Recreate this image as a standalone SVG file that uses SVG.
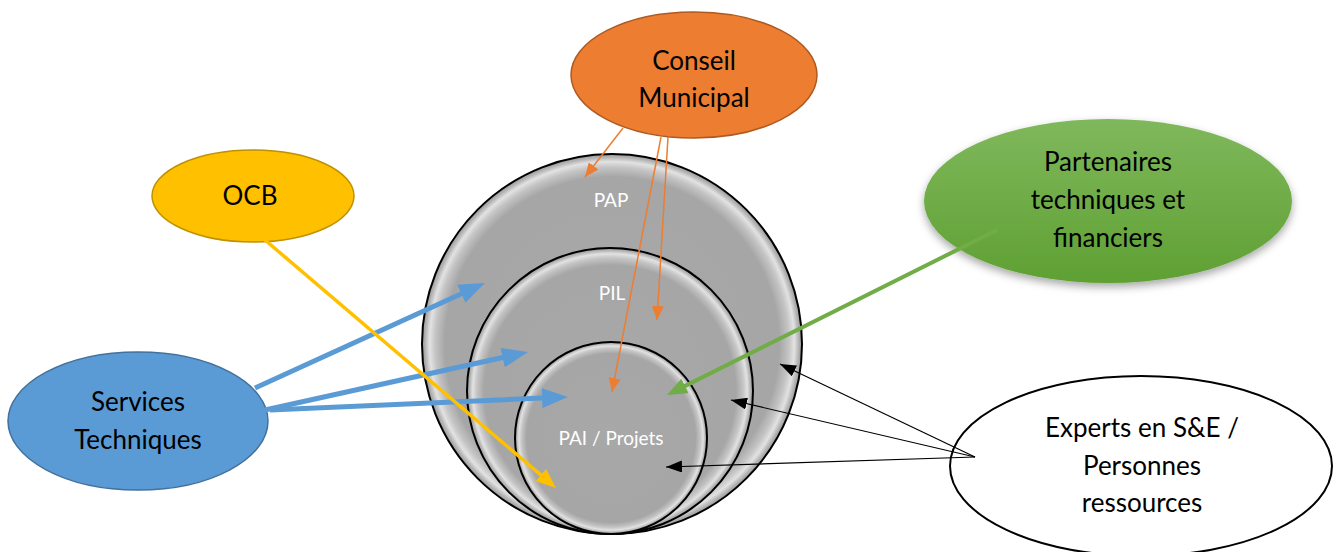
<svg xmlns="http://www.w3.org/2000/svg" width="1341" height="552" viewBox="0 0 1341 552">
<style>
.lbl{font-family:Lato,"Liberation Sans",sans-serif;font-size:26px;fill:#000;text-anchor:middle}
.in{font-family:Lato,"Liberation Sans",sans-serif;font-size:19px;fill:#fff;text-anchor:middle}
.ring{stroke:#000;stroke-width:2}
.blue{stroke:#5B9BD5;stroke-width:5;fill:none}
.org{stroke:#ED7D31;stroke-width:1.5;fill:none}
.blk{stroke:#000;stroke-width:1.2;fill:none}
</style>
<defs>
<radialGradient id="gl" cx="50%" cy="50%" r="50%">
<stop offset="0" stop-color="#A8A8A8"/>
<stop offset="0.88" stop-color="#A6A6A6"/>
<stop offset="0.93" stop-color="#C4C4C4"/>
<stop offset="0.96" stop-color="#E2E2E2"/>
<stop offset="0.985" stop-color="#B0B0B0"/>
<stop offset="1" stop-color="#9A9A9A"/>
</radialGradient>
<linearGradient id="gr" x1="0" y1="0" x2="0" y2="1">
<stop offset="0" stop-color="#7FB85C"/>
<stop offset="1" stop-color="#5FA033"/>
</linearGradient>
<filter id="sh" x="-20%" y="-20%" width="140%" height="150%">
<feDropShadow dx="0" dy="4" stdDeviation="4" flood-color="#000" flood-opacity="0.35"/>
</filter>
<marker id="mb" markerUnits="userSpaceOnUse" markerWidth="26" markerHeight="20" refX="11" refY="10" orient="auto"><path d="M0,0 L26,10 L0,20 Z" fill="#5B9BD5"/></marker>
<marker id="my" markerUnits="userSpaceOnUse" markerWidth="20" markerHeight="16" refX="8" refY="8" orient="auto"><path d="M0,0 L20,8 L0,16 Z" fill="#FFC000"/></marker>
<marker id="mg" markerUnits="userSpaceOnUse" markerWidth="20" markerHeight="16" refX="8" refY="8" orient="auto"><path d="M0,0 L20,8 L0,16 Z" fill="#70AD47"/></marker>
<marker id="mo" markerUnits="userSpaceOnUse" markerWidth="14" markerHeight="12" refX="14" refY="6" orient="auto"><path d="M0,0 L14,6 L0,12 Z" fill="#ED7D31"/></marker>
<marker id="mk" markerUnits="userSpaceOnUse" markerWidth="16" markerHeight="12" refX="16" refY="6" orient="auto"><path d="M0,0 L16,6 L0,12 Z" fill="#000"/></marker>
</defs>

<g id="pap">
<circle cx="612" cy="344" r="190" fill="url(#gl)" class="ring"/>
<text class="in" x="611" y="207">PAP</text>
</g>
<g id="pil">
<circle cx="610" cy="391" r="143" fill="url(#gl)" class="ring"/>
<text class="in" x="612" y="300">PIL</text>
</g>
<g id="pai">
<circle cx="611" cy="438" r="96" fill="url(#gl)" class="ring"/>
<text class="in" x="611" y="445">PAI / Projets</text>
</g>

<g id="conseil">
<ellipse cx="694" cy="75" rx="123" ry="63" fill="#ED7D31" stroke="#AE5A21" stroke-width="1.5"/>
<text class="lbl" x="694" y="70">Conseil</text>
<text class="lbl" x="694" y="107">Municipal</text>
</g>
<g id="ocb">
<ellipse cx="253" cy="196" rx="101" ry="46" fill="#FFC000" stroke="#BF9000" stroke-width="1.5"/>
<text class="lbl" x="250" y="205">OCB</text>
</g>
<g id="services">
<ellipse cx="138" cy="421" rx="130" ry="69" fill="#5B9BD5" stroke="#41719C" stroke-width="1.5"/>
<text class="lbl" x="138" y="411">Services</text>
<text class="lbl" x="138" y="449">Techniques</text>
</g>
<g id="partenaires">
<ellipse cx="1108" cy="201" rx="184" ry="82" fill="url(#gr)" filter="url(#sh)"/>
<text class="lbl" x="1108" y="171">Partenaires</text>
<text class="lbl" x="1108" y="209">techniques et</text>
<text class="lbl" x="1108" y="247">financiers</text>
</g>
<g id="experts">
<ellipse cx="1141" cy="466" rx="191" ry="90" fill="#fff" stroke="#000" stroke-width="2"/>
<text class="lbl" x="1142" y="437">Experts en S&amp;E /</text>
<text class="lbl" x="1142" y="475">Personnes</text>
<text class="lbl" x="1142" y="512">ressources</text>
</g>

<g id="connectors">
<line x1="255" y1="388" x2="471.3" y2="289.2" class="blue" marker-end="url(#mb)"/>
<line x1="265" y1="410" x2="513.3" y2="355.2" class="blue" marker-end="url(#mb)"/>
<line x1="270" y1="410" x2="553" y2="397.6" class="blue" marker-end="url(#mb)"/>
<line x1="265" y1="240" x2="546.9" y2="480.2" stroke="#FFC000" stroke-width="3.5" marker-end="url(#my)"/>
<line x1="997" y1="230" x2="677.7" y2="389.6" stroke="#70AD47" stroke-width="4" marker-end="url(#mg)"/>
<line x1="623" y1="128" x2="585" y2="177" class="org" marker-end="url(#mo)"/>
<line x1="661" y1="137" x2="612" y2="392" class="org" marker-end="url(#mo)"/>
<line x1="668" y1="137" x2="657" y2="320" class="org" marker-end="url(#mo)"/>
<line x1="975" y1="457" x2="780" y2="364" class="blk" marker-end="url(#mk)"/>
<line x1="975" y1="457" x2="731" y2="400" class="blk" marker-end="url(#mk)"/>
<line x1="975" y1="457" x2="666" y2="467" class="blk" marker-end="url(#mk)"/>
</g>
</svg>
